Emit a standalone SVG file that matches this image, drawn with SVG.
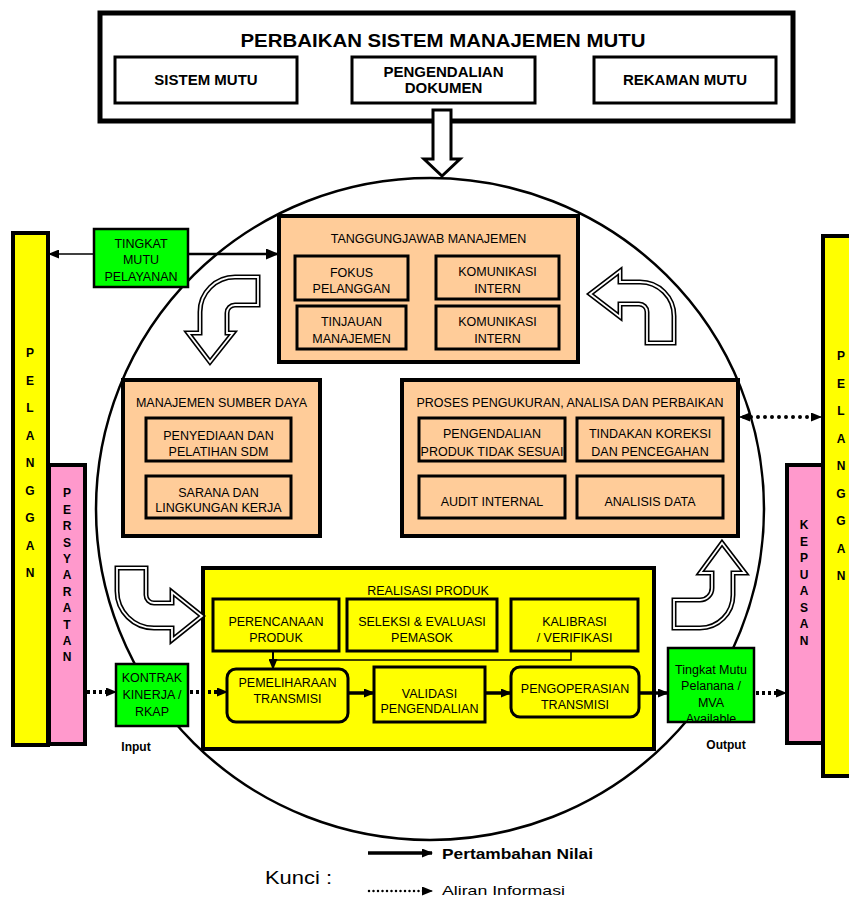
<svg xmlns="http://www.w3.org/2000/svg" xmlns:xlink="http://www.w3.org/1999/xlink" width="849" height="899" viewBox="0 0 849 899">
<style>
.t{font-family:"Liberation Sans",Arial,sans-serif;font-size:12.5px;text-anchor:middle;fill:#000}
.hb{font-family:"Liberation Sans",Arial,sans-serif;font-size:15px;font-weight:bold;text-anchor:middle;fill:#000}
.v{font-family:"Liberation Sans",Arial,sans-serif;font-size:12px;font-weight:bold;text-anchor:middle;fill:#000}
.lb{font-family:"Liberation Sans",Arial,sans-serif;font-size:12px;font-weight:bold;text-anchor:middle;fill:#000}
.big{fill:#FFCC99;stroke:#000;stroke-width:4}
.sub{fill:#FFCC99;stroke:#000;stroke-width:3}
.ybig{fill:#FFFF00;stroke:#000;stroke-width:4}
.ysub{fill:#FFFF00;stroke:#000;stroke-width:3}
.grn{fill:#00FF00;stroke:#000;stroke-width:2.5}
.pink{fill:#FF99CC;stroke:#000;stroke-width:4}
.wb{fill:#fff;stroke:#000;stroke-width:3}
.hol{fill:#fff;stroke:#000;stroke-width:5;stroke-linejoin:miter}
.holin{fill:none;stroke:#fff;stroke-width:1.8;stroke-linejoin:miter}
.sol{fill:none;stroke:#000}
.dsq{fill:none;stroke:#000;stroke-width:4;stroke-dasharray:3 3}
.drd{fill:none;stroke:#000;stroke-width:4;stroke-dasharray:0 7;stroke-linecap:round}
</style>
<defs>
<marker id="ah" markerUnits="userSpaceOnUse" markerWidth="13" markerHeight="11" refX="12" refY="5.5" orient="auto-start-reverse" viewBox="0 0 13 11">
<path d="M0,0 L13,5.5 L0,11 z" fill="#000"/>
</marker>
<marker id="as" markerUnits="userSpaceOnUse" markerWidth="11" markerHeight="9" refX="10" refY="4.5" orient="auto-start-reverse" viewBox="0 0 11 9">
<path d="M0,0 L11,4.5 L0,9 z" fill="#000"/>
</marker>
<path id="c1" d="M258,277 L235,277 A35,35 0 0 0 200,312 L200,333 L188,333 L210,362 L233,333 L227,333 L227,313 A8,8 0 0 1 235,305 L258,305 Z"/>
<path id="c2" d="M647,343 L647,312 A8,8 0 0 0 639,304 L620,304 L620,317 L590,294 L620,271 L620,282 L640,282 A34,34 0 0 1 674,316 L674,343 Z"/>
<path id="c3" d="M117,568 L117,591 A37,37 0 0 0 154,628 L172,628 L172,640 L202,616 L172,592 L172,603 L154,603 A8,8 0 0 1 146,595 L146,568 Z"/>
<path id="c4" d="M674,600 L700,600 A12,12 0 0 0 712,588 L712,573 L700,573 L722,543 L745,573 L733,573 L733,595 A33,33 0 0 1 700,628 L674,628 Z"/>
<clipPath id="clipTM"><rect x="668" y="648" width="86" height="73"/></clipPath>
</defs>

<ellipse id="lingkaran" cx="430" cy="509" rx="334" ry="331" fill="none" stroke="#000" stroke-width="2.5"/>

<g id="perbaikan">
<rect x="100" y="13" width="693" height="108" fill="#fff" stroke="#000" stroke-width="5"/>
<text x="443" y="47" font-family="Liberation Sans,Arial,sans-serif" font-size="18.5" font-weight="bold" text-anchor="middle" textLength="405" lengthAdjust="spacingAndGlyphs">PERBAIKAN SISTEM MANAJEMEN MUTU</text>
</g>
<g id="sistem-mutu"><rect class="wb" x="115" y="57" width="182" height="46"/><text class="hb" x="206" y="85">SISTEM MUTU</text></g>
<g id="pengendalian-dokumen"><rect class="wb" x="352" y="57" width="183" height="46"/><text class="hb" x="443.5" y="77">PENGENDALIAN</text><text class="hb" x="443.5" y="93">DOKUMEN</text></g>
<g id="rekaman-mutu"><rect class="wb" x="594" y="57" width="182" height="46"/><text class="hb" x="685" y="85">REKAMAN MUTU</text></g>

<g id="pelanggan-kiri">
<rect class="ybig" x="13" y="233" width="35" height="512"/>
<text class="v" x="30" y="357.3">P</text><text class="v" x="30" y="384.8">E</text><text class="v" x="30" y="412.3">L</text><text class="v" x="30" y="439.8">A</text><text class="v" x="30" y="467.3">N</text><text class="v" x="30" y="494.8">G</text><text class="v" x="30" y="522.3">G</text><text class="v" x="30" y="549.8">A</text><text class="v" x="30" y="577.3">N</text>
</g>
<g id="persyaratan">
<rect class="pink" x="49" y="465" width="36" height="279"/>
<text class="v" x="67" y="497.3">P</text><text class="v" x="67" y="513.7">E</text><text class="v" x="67" y="530.1">R</text><text class="v" x="67" y="546.5">S</text><text class="v" x="67" y="562.9">Y</text><text class="v" x="67" y="579.3">A</text><text class="v" x="67" y="595.7">R</text><text class="v" x="67" y="612.1">A</text><text class="v" x="67" y="628.5">T</text><text class="v" x="67" y="644.9">A</text><text class="v" x="67" y="661.3">N</text>
</g>
<g id="pelanggan-kanan">
<rect class="ybig" x="823" y="236" width="40" height="540"/>
<text class="v" x="841" y="360.3">P</text><text class="v" x="841" y="387.8">E</text><text class="v" x="841" y="415.3">L</text><text class="v" x="841" y="442.8">A</text><text class="v" x="841" y="470.3">N</text><text class="v" x="841" y="497.8">G</text><text class="v" x="841" y="525.3">G</text><text class="v" x="841" y="552.8">A</text><text class="v" x="841" y="580.3">N</text>
</g>
<g id="kepuasan">
<rect class="pink" x="787" y="465" width="36" height="278"/>
<text class="v" x="804" y="529.3">K</text><text class="v" x="804" y="545.8">E</text><text class="v" x="804" y="562.3">P</text><text class="v" x="804" y="578.8">U</text><text class="v" x="804" y="595.3">A</text><text class="v" x="804" y="611.8">S</text><text class="v" x="804" y="628.3">A</text><text class="v" x="804" y="644.8">N</text>
</g>

<g id="tingkat-mutu-pelayanan">
<rect class="grn" x="94" y="229" width="94" height="58"/>
<text class="t" x="141" y="247.5">TINGKAT</text><text class="t" x="141" y="263.5">MUTU</text><text class="t" x="141" y="280.5">PELAYANAN</text>
</g>

<g id="tanggungjawab-manajemen">
<rect class="big" x="279" y="216" width="299" height="146"/>
<text class="t" x="428.5" y="242.5">TANGGUNGJAWAB MANAJEMEN</text>
</g>
<g id="fokus-pelanggan"><rect class="sub" x="295" y="256" width="113" height="44"/><text class="t" x="351.5" y="276.5">FOKUS</text><text class="t" x="351.5" y="293">PELANGGAN</text></g>
<g id="komunikasi-intern-1"><rect class="sub" x="436" y="256" width="123" height="43"/><text class="t" x="497.5" y="276">KOMUNIKASI</text><text class="t" x="497.5" y="292.5">INTERN</text></g>
<g id="tinjauan-manajemen"><rect class="sub" x="297" y="306" width="109" height="43"/><text class="t" x="351.5" y="326">TINJAUAN</text><text class="t" x="351.5" y="342.5">MANAJEMEN</text></g>
<g id="komunikasi-intern-2"><rect class="sub" x="436" y="306" width="123" height="43"/><text class="t" x="497.5" y="326">KOMUNIKASI</text><text class="t" x="497.5" y="342.5">INTERN</text></g>

<g id="manajemen-sumber-daya">
<rect class="big" x="123" y="380" width="197" height="156"/>
<text class="t" x="221.5" y="406.5">MANAJEMEN SUMBER DAYA</text>
</g>
<g id="penyediaan"><rect class="sub" x="146" y="418" width="145" height="43"/><text class="t" x="218.5" y="439.5">PENYEDIAAN DAN</text><text class="t" x="218.5" y="455.5">PELATIHAN SDM</text></g>
<g id="sarana"><rect class="sub" x="146" y="476" width="145" height="42"/><text class="t" x="218.5" y="496.5">SARANA DAN</text><text class="t" x="218.5" y="511.5">LINGKUNGAN KERJA</text></g>

<g id="proses-pengukuran">
<rect class="big" x="402" y="380" width="336" height="156"/>
<text class="t" x="570" y="406.5">PROSES PENGUKURAN, ANALISA DAN PERBAIKAN</text>
</g>
<g id="pengendalian-produk"><rect class="sub" x="419" y="418" width="146" height="43"/><text class="t" x="492" y="437.5">PENGENDALIAN</text><text class="t" x="492" y="455.5">PRODUK TIDAK SESUAI</text></g>
<g id="tindakan-koreksi"><rect class="sub" x="577" y="418" width="146" height="43"/><text class="t" x="650" y="437.5">TINDAKAN KOREKSI</text><text class="t" x="650" y="455.5">DAN PENCEGAHAN</text></g>
<g id="audit-internal"><rect class="sub" x="419" y="476" width="146" height="42"/><text class="t" x="492" y="505.5">AUDIT INTERNAL</text></g>
<g id="analisis-data"><rect class="sub" x="577" y="476" width="146" height="42"/><text class="t" x="650" y="505.5">ANALISIS DATA</text></g>

<g id="realisasi-produk">
<rect class="ybig" x="203" y="568" width="451" height="181"/>
<text class="t" x="428" y="594.5">REALISASI PRODUK</text>
</g>
<g id="perencanaan-produk"><rect class="ysub" x="213" y="599" width="126" height="52"/><text class="t" x="276" y="625.5">PERENCANAAN</text><text class="t" x="276" y="641.5">PRODUK</text></g>
<g id="seleksi-evaluasi"><rect class="ysub" x="347" y="599" width="150" height="52"/><text class="t" x="422" y="625.5">SELEKSI &amp; EVALUASI</text><text class="t" x="422" y="641.5">PEMASOK</text></g>
<g id="kalibrasi"><rect class="ysub" x="511" y="599" width="127" height="52"/><text class="t" x="574.5" y="625.5">KALIBRASI</text><text class="t" x="574.5" y="641.5">/ VERIFIKASI</text></g>
<g id="pemeliharaan-transmisi"><rect class="ysub" x="227" y="669" width="121" height="53" rx="9"/><text class="t" x="287.5" y="686.5">PEMELIHARAAN</text><text class="t" x="287.5" y="702.5">TRANSMISI</text></g>
<g id="validasi-pengendalian"><rect class="ysub" x="374" y="667" width="111" height="55"/><text class="t" x="429.5" y="697.5">VALIDASI</text><text class="t" x="429.5" y="712.5">PENGENDALIAN</text></g>
<g id="pengoperasian-transmisi"><rect class="ysub" x="511" y="667" width="128" height="50" rx="9"/><text class="t" x="575" y="692.5">PENGOPERASIAN</text><text class="t" x="575" y="708.5">TRANSMISI</text></g>

<g id="kontrak-kinerja">
<rect class="grn" x="116" y="664" width="72" height="62"/>
<text class="t" x="152" y="681.5">KONTRAK</text><text class="t" x="152" y="698.5">KINERJA /</text><text class="t" x="152" y="715.5">RKAP</text>
</g>
<g id="tingkat-mutu-pelanana">
<rect class="grn" x="668" y="648" width="86" height="74"/>
<text class="t" x="711" y="673.5">Tingkat Mutu</text><text class="t" x="711" y="689.5">Pelanana /</text><text class="t" x="711" y="706.5">MVA</text><text class="t" x="711" y="722.5" clip-path="url(#clipTM)">Available</text>
</g>
<text class="lb" x="136" y="751">Input</text>
<text class="lb" x="726" y="749">Output</text>

<g id="panah-besar">
<path class="wb" d="M433,110 L451,110 L451,159 L460,159 L442,176 L424,159 L433,159 Z"/>
<use xlink:href="#c1" class="hol"/><use xlink:href="#c1" class="holin"/>
<use xlink:href="#c2" class="hol"/><use xlink:href="#c2" class="holin"/>
<use xlink:href="#c3" class="hol"/><use xlink:href="#c3" class="holin"/>
<use xlink:href="#c4" class="hol"/><use xlink:href="#c4" class="holin"/>
</g>

<g id="connectors">
<line class="sol" x1="94" y1="254" x2="49" y2="254" stroke-width="1.5" marker-end="url(#as)"/>
<line class="sol" x1="188" y1="254" x2="278" y2="254" stroke-width="2.5" marker-end="url(#ah)"/>
<line class="drd" x1="744" y1="417" x2="816" y2="417"/>
<line class="sol" x1="748" y1="417" x2="740" y2="417" stroke-width="1" marker-end="url(#as)"/>
<line class="sol" x1="812" y1="417" x2="821" y2="417" stroke-width="1" marker-end="url(#as)"/>
<polyline class="sol" points="571,651 571,660 273,660" stroke-width="1.5"/>
<line class="sol" x1="273" y1="651" x2="273" y2="669" stroke-width="2" marker-end="url(#as)"/>
<line class="sol" x1="348" y1="693" x2="374" y2="693" stroke-width="3.5" marker-end="url(#as)"/>
<line class="sol" x1="485" y1="693" x2="511" y2="693" stroke-width="3.5" marker-end="url(#as)"/>
<line class="sol" x1="639" y1="693" x2="668" y2="693" stroke-width="3.5" marker-end="url(#as)"/>
<line class="dsq" x1="87" y1="692" x2="108" y2="692"/>
<line class="sol" x1="106" y1="692" x2="116" y2="692" stroke-width="1" marker-end="url(#as)"/>
<line class="dsq" x1="190" y1="692" x2="219" y2="692"/>
<line class="sol" x1="217" y1="692" x2="227" y2="692" stroke-width="1" marker-end="url(#as)"/>
<line class="dsq" x1="756" y1="693" x2="778" y2="693"/>
<line class="sol" x1="776" y1="693" x2="786" y2="693" stroke-width="1" marker-end="url(#as)"/>
</g>

<g id="kunci">
<line class="sol" x1="368" y1="853" x2="432" y2="853" stroke-width="3.5" marker-end="url(#as)"/>
<text x="442" y="859" font-family="Liberation Sans,Arial,sans-serif" font-size="15" font-weight="bold" textLength="151" lengthAdjust="spacingAndGlyphs">Pertambahan Nilai</text>
<text x="265" y="884" font-family="Liberation Sans,Arial,sans-serif" font-size="18" textLength="67" lengthAdjust="spacingAndGlyphs">Kunci :</text>
<line x1="369" y1="891" x2="424" y2="891" stroke="#000" stroke-width="2.5" stroke-dasharray="0 4.5" stroke-linecap="round"/>
<line class="sol" x1="424" y1="891" x2="432" y2="891" stroke-width="1" marker-end="url(#as)"/>
<text x="442" y="895" font-family="Liberation Sans,Arial,sans-serif" font-size="13.5" textLength="123" lengthAdjust="spacingAndGlyphs">Aliran Informasi</text>
</g>
</svg>
